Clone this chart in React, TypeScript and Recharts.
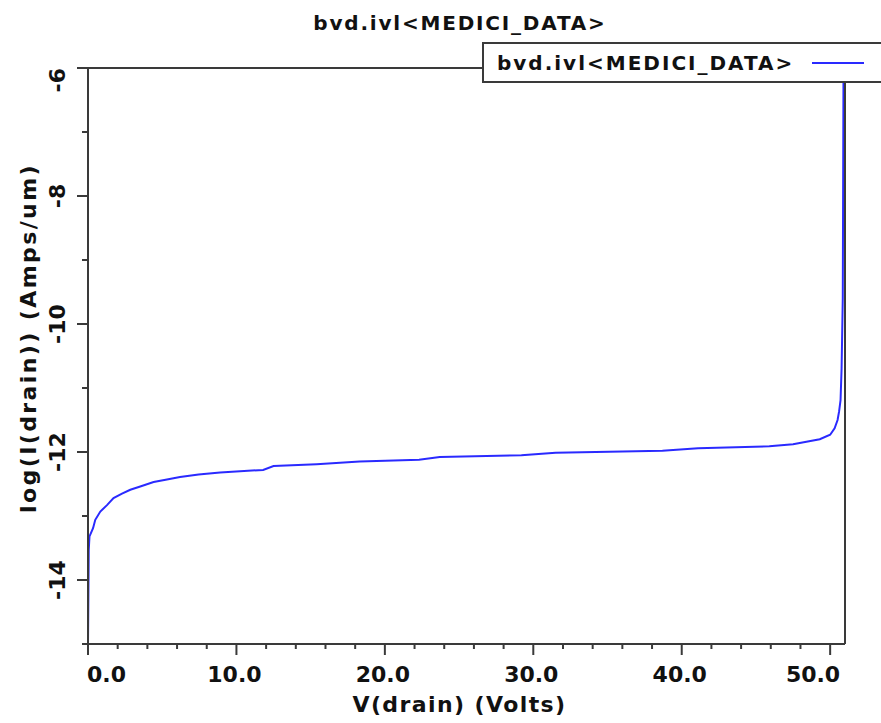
import { Legend, Line, LineChart, XAxis, YAxis } from 'recharts';

const voltage = [
  0, 0.05, 0.1, 0.34, 0.49, 0.83, 1.28, 1.72, 2.29, 2.85, 3.52, 4.42, 5.32, 6.2, 7.45, 8.9, 11.8,
  12.5, 15.4, 18.3, 22.3, 23.7, 29.2, 31.5, 38.7, 41.1, 45.9, 47.5, 48.4, 49.3, 50.0, 50.3, 50.5,
  50.6, 50.7, 50.77, 50.85, 50.9,
];
const logCurrent = [
  -15, -13.53, -13.32, -13.19, -13.06, -12.93, -12.83, -12.72, -12.65, -12.59, -12.54, -12.47,
  -12.43, -12.39, -12.35, -12.32, -12.28, -12.22, -12.19, -12.15, -12.12, -12.08, -12.05, -12.01,
  -11.98, -11.94, -11.91, -11.88, -11.84, -11.8, -11.73, -11.63, -11.5, -11.37, -11.19, -10.7,
  -9.6, -6,
];

// major ticks get a label, the rest are short unlabelled marks
const xMajor = [0, 10, 20, 30, 40, 50];
const xTicks = [0, 2, 4, 6, 8, 10, 12, 14, 16, 18, 20, 22, 24, 26, 28, 30, 32, 34, 36, 38, 40, 42, 44, 46, 48, 50];
const yMajor = [-14, -12, -10, -8, -6];
const yTicks = [-15, -14, -13, -12, -11, -10, -9, -8, -7, -6];

const seriesName = 'bvd.ivl<MEDICI_DATA>';
const chartTitle = 'bvd.ivl<MEDICI_DATA>';
const xTitle = 'V(drain) (Volts)';
const yTitle = 'log(I(drain))  (Amps/um)';

const data = voltage.map((v, i) => ({ v, logI: logCurrent[i] }));

const FONT = '"DejaVu Sans", sans-serif';
const AXIS = '#3a3a3a';
const INK = '#111';
const BLUE = '#2a2aff';

function XTick({ x, y, payload }: any) {
  const v = payload.value as number;
  const major = xMajor.includes(v);
  const anchor = v === 0 ? 'start' : v === 50 ? 'end' : 'middle';
  const dx = v === 0 ? -1 : v === 50 ? 10 : -2;
  return (
    <g>
      <line x1={x} y1={y} x2={x} y2={y + (major ? 11 : 5)} stroke={AXIS} strokeWidth={2} />
      {major && (
        <text x={x + dx} y={y} dy={38} textAnchor={anchor} fontFamily={FONT} fontWeight="bold" fontSize={22} fill={INK}>
          {v.toFixed(1)}
        </text>
      )}
    </g>
  );
}

function YTick({ x, y, payload }: any) {
  const v = payload.value as number;
  const major = yMajor.includes(v);
  const bx = x - 23;
  const anchor = v === -6 ? 'end' : 'middle';
  return (
    <g>
      <line x1={x} y1={y} x2={x - (major ? 11 : 6)} y2={y} stroke={AXIS} strokeWidth={2} />
      {major && (
        <text
          x={bx}
          y={y}
          transform={`rotate(-90, ${bx}, ${y})`}
          textAnchor={anchor}
          fontFamily={FONT}
          fontWeight="bold"
          fontSize={22}
          fill={INK}
        >
          {v}
        </text>
      )}
    </g>
  );
}

function XTitle({ viewBox }: any) {
  const cx = viewBox ? viewBox.x + viewBox.width / 2 : 466;
  return (
    <text x={cx - 7} y={712} textAnchor="middle" fontFamily={FONT} fontWeight="bold" fontSize={22} letterSpacing={1.4} fill={INK}>
      {xTitle}
    </text>
  );
}

function YTitle({ viewBox }: any) {
  const cy = viewBox ? viewBox.y + viewBox.height / 2 : 356;
  const y = cy - 18;
  const x = 36;
  return (
    <text
      x={x}
      y={y}
      transform={`rotate(-90, ${x}, ${y})`}
      textAnchor="middle"
      fontFamily={FONT}
      fontWeight="bold"
      fontSize={22}
      letterSpacing={2.4}
      fill={INK}
    >
      {yTitle}
    </text>
  );
}

function LegendBox({ payload }: any) {
  return (
    <div
      style={{
        boxSizing: 'border-box',
        width: 420,
        height: 41,
        border: `2px solid ${AXIS}`,
        background: '#fff',
        display: 'flex',
        alignItems: 'center',
        paddingLeft: 13,
      }}
    >
      {(payload || []).map((p: any) => (
        <div key={p.value} style={{ display: 'flex', alignItems: 'center' }}>
          <span style={{ fontFamily: FONT, fontWeight: 'bold', fontSize: 20, letterSpacing: 2, color: INK, whiteSpace: 'nowrap' }}>
            {p.value}
          </span>
          <svg width={52} height={6} style={{ marginLeft: 18 }}>
            <line x1={0} y1={3} x2={52} y2={3} stroke={p.color} strokeWidth={2} />
          </svg>
        </div>
      ))}
    </div>
  );
}

export default function App() {
  return (
    <div style={{ position: 'absolute', left: 0, top: 0, width: 881, height: 723, overflow: 'hidden', background: '#fff' }}>
      <div
        style={{
          position: 'absolute',
          left: 460,
          top: 11,
          transform: 'translateX(-50%)',
          whiteSpace: 'nowrap',
          fontFamily: FONT,
          fontWeight: 'bold',
          fontSize: 20,
          letterSpacing: 1.8,
          color: INK,
          lineHeight: '24px',
        }}
      >
        {chartTitle}
      </div>
      <LineChart width={881} height={723} data={data} margin={{ top: 67, right: 35, bottom: 78, left: 87 }}>
        <XAxis
          dataKey="v"
          type="number"
          domain={[0, 51]}
          ticks={xTicks}
          height={1}
          tickSize={0}
          tickMargin={0}
          interval={0}
          axisLine={{ stroke: AXIS, strokeWidth: 2 }}
          tickLine={false}
          tick={<XTick />}
          label={{ content: (p: any) => <XTitle {...p} /> }}
        />
        <XAxis
          xAxisId="top"
          orientation="top"
          type="number"
          domain={[0, 51]}
          height={1}
          tick={false}
          tickLine={false}
          axisLine={{ stroke: AXIS, strokeWidth: 2 }}
        />
        <YAxis
          type="number"
          domain={[-15, -6]}
          ticks={yTicks}
          width={1}
          tickSize={0}
          tickMargin={0}
          interval={0}
          axisLine={{ stroke: AXIS, strokeWidth: 2 }}
          tickLine={false}
          tick={<YTick />}
          label={{ content: (p: any) => <YTitle {...p} /> }}
        />
        <YAxis
          yAxisId="right"
          orientation="right"
          type="number"
          domain={[-15, -6]}
          width={1}
          tick={false}
          tickLine={false}
          axisLine={{ stroke: AXIS, strokeWidth: 2 }}
        />
        <Legend
          layout="horizontal"
          verticalAlign="middle"
          align="center"
          content={<LegendBox />}
          wrapperStyle={{ top: 42, left: 482, width: 420, height: 41 }}
        />
        <Line
          type="linear"
          dataKey="logI"
          name={seriesName}
          stroke={BLUE}
          strokeWidth={2}
          dot={false}
          activeDot={false}
          isAnimationActive={false}
        />
      </LineChart>
    </div>
  );
}
